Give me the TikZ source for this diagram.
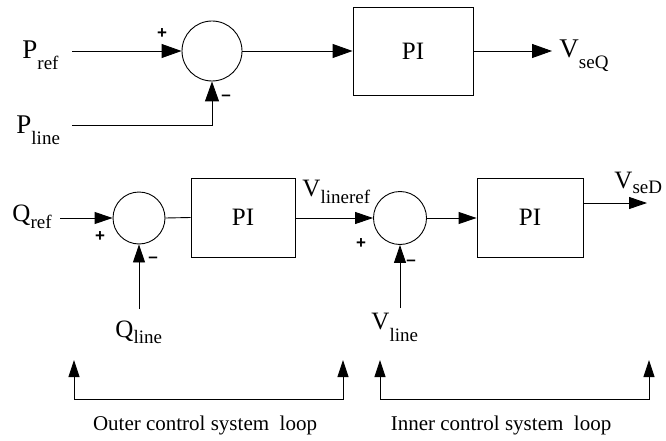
\documentclass[tikz,border=0pt]{standalone}
\usepackage{fontspec}
\setmainfont{Liberation Serif}
\newfontfamily\signfont{Liberation Sans}
\usetikzlibrary{arrows.meta}
\newcommand\mainlab[4]{{\fontsize{#3}{#3}\selectfont #1}\raisebox{-#4pt}{\fontsize{19}{19}\selectfont #2}}
\begin{document}
\begin{tikzpicture}[x=1pt,y=-1pt,
  line width=0.9pt,
  sumnode/.style={draw,circle,inner sep=0pt},
  blk/.style={draw,rectangle,inner sep=0pt,font=\fontsize{25}{25}\selectfont},
  sig/.style={-{Triangle[length=20pt,width=14pt]}},
  sigb/.style={-{Triangle[length=18pt,width=12pt]}},
  lbl/.style={anchor=base west,inner sep=0pt},
  pm/.style={inner sep=0pt,font=\signfont\bfseries\fontsize{17}{17}\selectfont},
  loopl/.style={{Triangle[length=17pt,width=11pt]}-{Triangle[length=17pt,width=11pt]}},
  captxt/.style={inner sep=0pt,font=\fontsize{21}{21}\selectfont}]
\useasboundingbox (0,0) rectangle (666,441);
% ---------- top row ----------
\node[sumnode,minimum size=60pt] (s1) at (212,51) {};
\node[blk,minimum width=120pt,minimum height=88pt] (pi1) at (413,51) {PI};
\coordinate (prefin) at (72,51);
\coordinate (plinein) at (72,125);
\coordinate (vseqout) at (552,51);
\node[lbl] (prefl) at (22,59) {\mainlab{P}{ref}{27}{11}};
\node[lbl] (plinel) at (16,134) {\mainlab{P}{line}{27}{10}};
\node[lbl] (vseql) at (559,58) {\mainlab{V}{seQ}{27}{11}};
\draw[sig] (prefin) -- (s1.west);
\draw[sig] (plinein) -| (s1.south);
\draw[sig] (s1.east) -- (pi1.west);
\draw[sig] (pi1.east) -- (vseqout);
\node[pm] (p1) at (162,34) {+};
\node[pm] (m1) at (226,98) {–};
% ---------- bottom row ----------
\node[sumnode,minimum size=52pt] (s2) at (139,218) {};
\node[blk,minimum width=104pt,minimum height=79pt] (pi2) at (243,217.5) {PI};
\node[sumnode,minimum size=53pt] (s3) at (400,218) {};
\node[blk,minimum width=106pt,minimum height=79pt] (pi3) at (530,217.5) {PI};
\coordinate (qrefin) at (60,218);
\coordinate (qlinein) at (139,309);
\coordinate (vlinein) at (400,308);
\coordinate (vsedst) at (583,203);
\coordinate (vsedout) at (647,203);
\node[lbl] (qrefl) at (12,221) {\mainlab{Q}{ref}{25}{7}};
\node[lbl] (qlinel) at (115,337) {\mainlab{Q}{line}{25}{6}};
\node[lbl] (vlinerefl) at (302,196) {\mainlab{V}{lineref}{25}{7}};
\node[lbl] (vlinel) at (371,329) {\mainlab{V}{line}{25}{12}};
\node[lbl] (vsedl) at (614,188) {\mainlab{V}{seD}{25}{5}};
\draw[sigb] (qrefin) -- (s2.west);
\draw[sigb] (qlinein) -- (s2.south);
\draw (s2.east) -- (pi2.west);
\draw[sigb] (pi2.east |- s2.center) -- (s3.west);
\draw[sigb] (vlinein) -- (s3.south);
\draw[sigb] (s3.east) -- (pi3.west |- s3.center);
\draw[sigb] (vsedst) -- (vsedout);
\node[pm] (p2) at (100,237) {+};
\node[pm] (m2) at (153,260) {–};
\node[pm] (p3) at (361,244) {+};
\node[pm] (m3) at (411,263) {–};
% ---------- loop brackets ----------
\coordinate (oa) at (74,360);
\coordinate (ob) at (74,399);
\coordinate (oc) at (343,399);
\coordinate (od) at (343,360);
\coordinate (ia) at (380,360);
\coordinate (ib) at (380,399);
\coordinate (ic) at (649,399);
\coordinate (id) at (649,360);
\draw[loopl] (oa) -- (ob) -- (oc) -- (od);
\draw[loopl] (ia) -- (ib) -- (ic) -- (id);
\node[captxt] (outer) at (205,425) {Outer control system\ \ loop};
\node[captxt] (inner) at (501,425) {Inner control system\ \ loop};
\end{tikzpicture}
\end{document}
